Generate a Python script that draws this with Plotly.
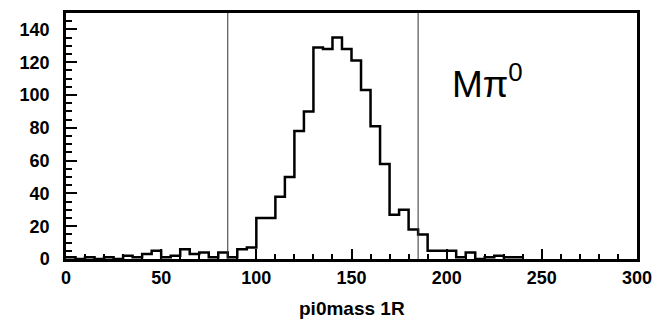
import plotly.graph_objects as go

bin_width = 5
counts = [1, 0, 1, 0, 1, 0, 2, 1, 3, 5,
          1, 2, 6, 3, 4, 1, 4, 1, 6, 7,
          25, 25, 38, 50, 78, 90, 129, 128, 135, 128,
          121, 103, 81, 58, 27, 30, 18, 15, 5, 5,
          5, 1, 4, 0, 1, 2, 1, 1]
cut_lines = [85, 185]
x_ticks = [0, 50, 100, 150, 200, 250, 300]
y_ticks = [0, 20, 40, 60, 80, 100, 120, 140]
x_label = "pi0mass 1R"
panel_label = "Mπ<sup>0</sup>"

edges = [i * bin_width for i in range(len(counts) + 1)]
yvals = counts + [counts[-1]]

FONT = "Liberation Sans, Arial, sans-serif"

fig = go.Figure()
fig.add_trace(go.Scatter(x=edges, y=yvals, mode="lines", line_shape="hv",
                         line=dict(color="black", width=2.5), showlegend=False,
                         hoverinfo="skip"))

for xc in cut_lines:
    fig.add_shape(type="line", x0=xc, x1=xc, y0=0, y1=1, xref="x", yref="paper",
                  line=dict(color="#333333", width=1))

fig.add_annotation(x=0.5, y=0, xref="paper", yref="paper", text=x_label,
                   showarrow=False, yanchor="middle", yshift=-49,
                   font=dict(family=FONT, size=19, color="black", weight="bold"))
fig.add_annotation(x=202, y=108, xref="x", yref="y", text=panel_label,
                   showarrow=False, xanchor="left", yanchor="middle",
                   font=dict(family=FONT, size=37, color="black"))

axis_common = dict(showline=True, linecolor="black", linewidth=2.5, mirror=True,
                   showgrid=False, zeroline=False, ticks="inside",
                   tickcolor="black", tickwidth=1.5,
                   tickfont=dict(family=FONT, size=18, color="black", weight="bold"))

fig.update_xaxes(range=[0, 300], tickvals=x_ticks, ticklen=10,
                 minor=dict(ticks="inside", dtick=10, ticklen=5, tickcolor="black", tickwidth=1.5),
                 ticklabelstandoff=1, **axis_common)
fig.update_yaxes(range=[0, 150], tickvals=y_ticks, ticklen=11,
                 minor=dict(ticks="inside", dtick=5, ticklen=6, tickcolor="black", tickwidth=1.5),
                 ticklabelstandoff=10, **axis_common)

# page body has an 8px default margin; size the figure so the plot area lands where the reference has it
fig.update_layout(width=652, height=312, margin=dict(l=58, r=23, t=2, b=61),
                  plot_bgcolor="white", paper_bgcolor="white")

fig.write_html("out.html")
